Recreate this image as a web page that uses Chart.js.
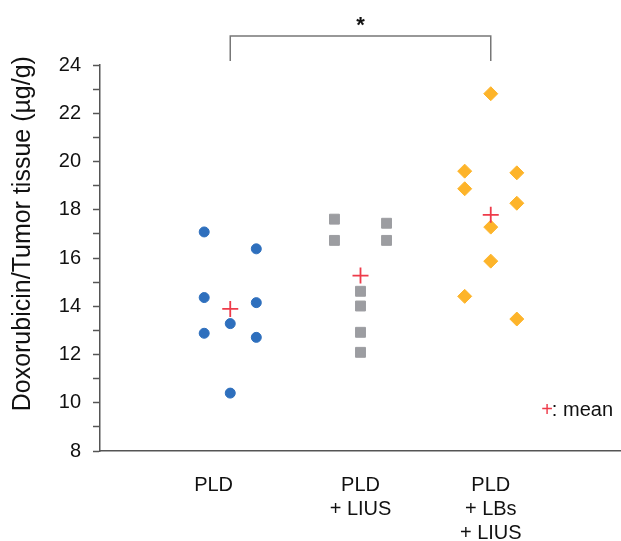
<!DOCTYPE html>
<html>
<head>
<meta charset="utf-8">
<script src="https://cdn.jsdelivr.net/npm/chart.js@4"></script>
<style>
  html, body { margin: 0; padding: 0; background: #fff; }
  #wrap { width: 621px; height: 541px; position: relative; }
</style>
</head>
<body>
<div id="wrap"><canvas id="doxChart"></canvas></div>
<script>
// groups along the x axis (first label sits left of its column in the original)
const groupLabels = [['PLD      '], ['PLD', '+ LIUS'], ['PLD', '+ LBs', '+ LIUS']];

// per-animal values (µg/g) and their column in the dot plot (-1 left, 0 centre, 1 right)
const pldValues = [17.08, 16.38, 14.36, 14.15, 13.28, 12.88, 12.71, 10.40];
const pldCols   = [-1, 1, -1, 1, 0, -1, 1, 0];
const liusValues = [17.61, 17.44, 16.73, 16.73, 14.62, 14.01, 12.92, 12.09];
const liusCols   = [-1, 1, -1, 1, 0, 0, 0, 0];
const lbsValues = [22.81, 19.60, 19.53, 18.87, 18.27, 17.28, 15.87, 14.41, 13.47];
const lbsCols   = [0, -1, 1, -1, 1, 0, 0, -1, 1];

// group means read from the red crosses
const meanValues = [13.89, 15.27, 17.79];

// significance bracket between group 1 and group 3
const bracketFrom = 1, bracketTo = 3;
const bracketLow = 24.17, bracketHigh = 25.2;

const colSpread = 0.2;

function toPoints(group, values, cols) {
    return values.map(function(v, i) {
        return { x: group + cols[i] * colSpread, y: v };
    });
}

const FONT = "'Liberation Sans', Arial, Helvetica, sans-serif";
const axisColor = '#555';

const extraText = {
    id: 'extraText',
    afterDraw: function(chart) {
        const ctx = chart.ctx;
        const xs = chart.scales.x, ys = chart.scales.y;
        ctx.save();
        // asterisk over the bracket
        ctx.font = 'bold 22px ' + FONT;
        ctx.fillStyle = '#111';
        ctx.textAlign = 'center';
        ctx.textBaseline = 'middle';
        ctx.fillText('*', xs.getPixelForValue(2), ys.getPixelForValue(25.6));
        // "+: mean" key
        ctx.font = '20px ' + FONT;
        ctx.textAlign = 'right';
        const right = chart.chartArea.right - 8;
        const y = ys.getPixelForValue(9.7);
        ctx.fillText(': mean', right, y);
        const w = ctx.measureText(': mean').width;
        ctx.fillStyle = '#ee3b4a';
        ctx.fillText('+', right - w + 1, y);
        ctx.restore();
    }
};

const ctx = document.getElementById('doxChart').getContext('2d');

new Chart(ctx, {
    type: 'scatter',
    data: {
        datasets: [
            {
                label: 'mean',
                data: meanValues.map(function(m, i) { return { x: i + 1, y: m }; }),
                pointStyle: 'cross',
                pointRadius: 8,
                borderColor: '#ee3b4a',
                backgroundColor: '#ee3b4a',
                pointBorderWidth: 1.8,
                order: 0
            },
            {
                label: 'PLD',
                data: toPoints(1, pldValues, pldCols),
                pointStyle: 'circle',
                pointRadius: 5,
                backgroundColor: '#2e6fbd',
                borderColor: '#2e6fbd',
                pointBorderWidth: 1,
                order: 1
            },
            {
                label: 'PLD + LIUS',
                data: toPoints(2, liusValues, liusCols),
                pointStyle: 'rect',
                pointRadius: 7,
                backgroundColor: '#9c9da1',
                borderColor: '#9c9da1',
                pointBorderWidth: 1,
                order: 1
            },
            {
                label: 'PLD + LBs + LIUS',
                data: toPoints(3, lbsValues, lbsCols),
                pointStyle: 'rectRot',
                pointRadius: 7,
                backgroundColor: '#fdb42a',
                borderColor: '#fdb42a',
                pointBorderWidth: 1,
                order: 1
            },
            {
                type: 'line',
                label: 'bracket',
                data: [
                    { x: bracketFrom, y: bracketLow },
                    { x: bracketFrom, y: bracketHigh },
                    { x: bracketTo, y: bracketHigh },
                    { x: bracketTo, y: bracketLow }
                ],
                showLine: true,
                borderColor: '#777',
                borderWidth: 1.5,
                pointRadius: 0,
                fill: false,
                clip: false,
                order: 2
            }
        ]
    },
    options: {
        responsive: true,
        maintainAspectRatio: false,
        animation: false,
        layout: { autoPadding: false, padding: { top: 65, right: 0, bottom: 0, left: 0 } },
        plugins: {
            legend: { display: false },
            tooltip: { enabled: false }
        },
        scales: {
            x: {
                type: 'linear',
                min: 0,
                max: 4,
                afterFit: function(scale) {
                    scale.height = 90;
                    scale.paddingLeft = 0;
                    scale.paddingRight = 0;
                },
                grid: { display: false, drawTicks: false },
                border: { display: true, color: axisColor, width: 1.5 },
                ticks: {
                    stepSize: 1,
                    autoSkip: false,
                    maxRotation: 0,
                    padding: 22,
                    color: '#111',
                    font: { family: FONT, size: 20 },
                    callback: function(v) { return groupLabels[v - 1] || ''; }
                }
            },
            y: {
                min: 8,
                max: 24,
                afterFit: function(scale) { scale.width = 100; },
                grid: { drawOnChartArea: false, drawTicks: true, tickLength: 7, color: axisColor, tickWidth: 1.5 },
                border: { display: true, color: axisColor, width: 1.5 },
                ticks: {
                    stepSize: 1,
                    autoSkip: false,
                    padding: 12,
                    color: '#111',
                    font: { family: FONT, size: 20 },
                    callback: function(v) { return v % 2 === 0 ? v : ''; }
                },
                title: {
                    display: true,
                    // leading spaces lift the visible text above the axis centre, as in the original
                    text: '       Doxorubicin/Tumor tissue (µg/g)',
                    color: '#111',
                    font: { family: FONT, size: 25 },
                    padding: { top: 8, bottom: 0 }
                }
            }
        }
    },
    plugins: [extraText]
});
</script>
</body>
</html>
